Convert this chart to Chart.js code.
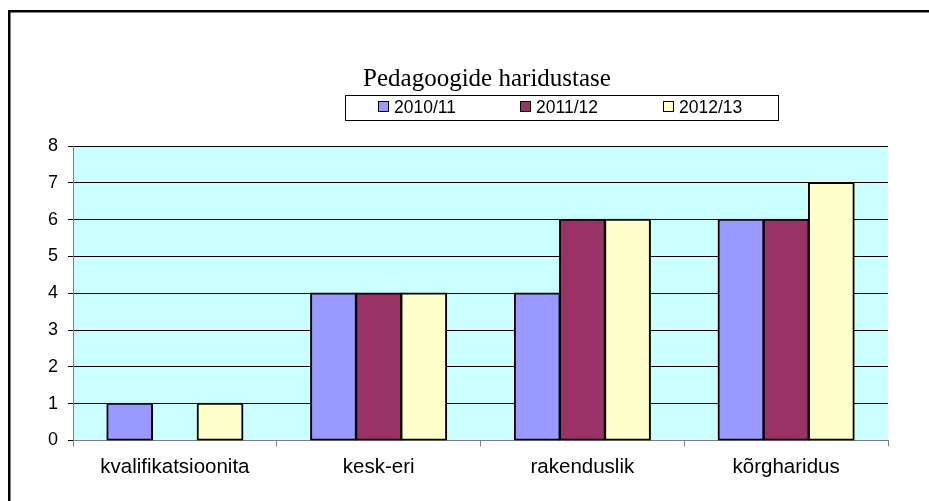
<!DOCTYPE html>
<html>
<head>
<meta charset="utf-8">
<script src="https://cdn.jsdelivr.net/npm/chart.js@4.4.1/dist/chart.umd.min.js"></script>
<style>
  html, body { margin: 0; padding: 0; background: #fff; }
  #wrap { width: 929px; height: 501px; position: relative; }
</style>
</head>
<body>
<div id="wrap"><canvas id="chart" width="929" height="501"></canvas></div>
<script>
const chartTitle = 'Pedagoogide haridustase';
const categories = ['kvalifikatsioonita', 'kesk-eri', 'rakenduslik', 'kõrgharidus'];
const seriesNames = ['2010/11', '2011/12', '2012/13'];
const values2010 = [1, 4, 4, 6];
const values2011 = [null, 4, 6, 6];
const values2012 = [1, 4, 6, 7];
const seriesColors = ['#9999FF', '#993366', '#FFFFCC'];

// frame, plot background, title and boxed legend
const decorPlugin = {
    id: 'decor',
    beforeDraw(chart) {
        const ctx = chart.ctx;
        const a = chart.chartArea;
        ctx.save();
        ctx.fillStyle = '#fff';
        ctx.fillRect(0, 0, chart.width, chart.height);
        ctx.fillStyle = '#000';
        ctx.fillRect(8, 10, chart.width - 8, 2.5);
        ctx.fillRect(8, 10, 2.5, chart.height - 10);
        ctx.fillStyle = '#CCFFFF';
        ctx.fillRect(a.left, a.top, a.right - a.left, a.bottom - a.top);
        ctx.restore();
    },
    afterDraw(chart) {
        const ctx = chart.ctx;
        ctx.save();
        ctx.fillStyle = '#000';
        ctx.font = '25px "Liberation Serif", "Times New Roman", serif';
        ctx.textAlign = 'center';
        ctx.textBaseline = 'alphabetic';
        ctx.fillText(chartTitle, 487, 86);

        ctx.strokeStyle = '#000';
        ctx.lineWidth = 1;
        ctx.strokeRect(345.5, 95.5, 433, 25);

        const itemX = [378, 520, 663];
        ctx.font = '17.5px "Liberation Sans", Arial, sans-serif';
        ctx.textAlign = 'left';
        ctx.textBaseline = 'middle';
        chart.data.datasets.forEach((ds, i) => {
            ctx.fillStyle = ds.backgroundColor;
            ctx.fillRect(itemX[i], 101, 11, 11);
            ctx.strokeRect(itemX[i] + 0.5, 101.5, 10, 10);
            ctx.fillStyle = '#000';
            ctx.fillText(ds.label, itemX[i] + 16, 108);
        });
        ctx.restore();
    }
};

const fontFamily = '"Liberation Sans", Arial, sans-serif';

new Chart(document.getElementById('chart').getContext('2d'), {
    type: 'bar',
    data: {
        labels: categories,
        datasets: [
            { label: seriesNames[0], data: values2010, backgroundColor: seriesColors[0] },
            { label: seriesNames[1], data: values2011, backgroundColor: seriesColors[1] },
            { label: seriesNames[2], data: values2012, backgroundColor: seriesColors[2] }
        ].map(ds => Object.assign(ds, {
            borderColor: '#000',
            borderWidth: 2,
            borderSkipped: false,
            inflateAmount: 0.8,
            categoryPercentage: 0.665,
            barPercentage: 1
        }))
    },
    options: {
        responsive: false,
        animation: false,
        layout: { padding: { top: 146, left: 38, right: 41, bottom: 12 } },
        plugins: {
            legend: { display: false },
            title: { display: false },
            tooltip: { enabled: false }
        },
        scales: {
            x: {
                grid: {
                    offset: true,
                    drawOnChartArea: false,
                    color: '#808080',
                    tickLength: 6
                },
                border: { color: '#808080' },
                ticks: { color: '#000', font: { family: fontFamily, size: 20.5 }, padding: 9 }
            },
            y: {
                min: 0,
                max: 8,
                grid: { color: '#000', tickLength: 5 },
                border: { color: '#808080' },
                ticks: { stepSize: 1, color: '#000', font: { family: fontFamily, size: 18 }, padding: 10 }
            }
        }
    },
    plugins: [decorPlugin]
});
</script>
</body>
</html>
